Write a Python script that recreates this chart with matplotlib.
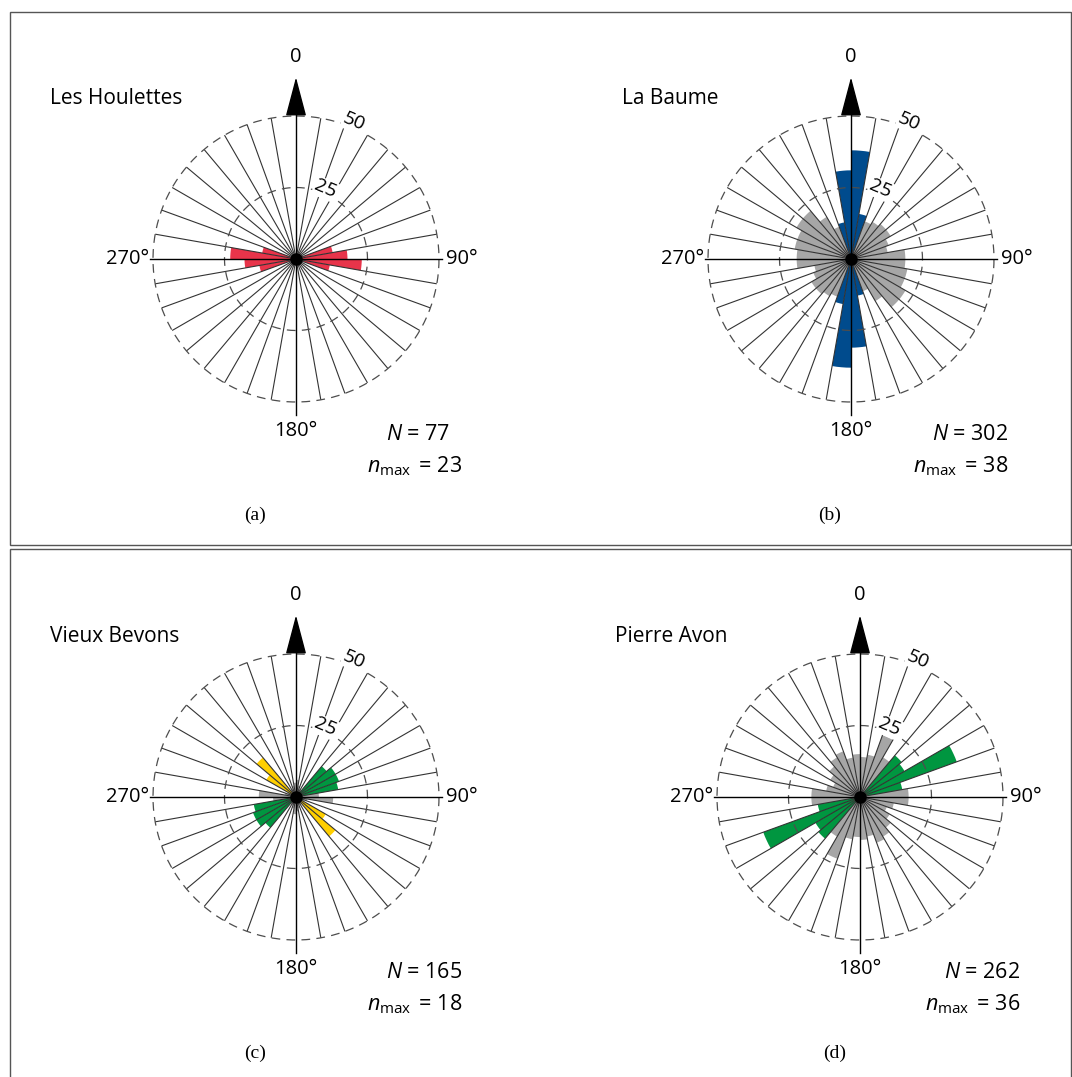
import numpy as np
import matplotlib
matplotlib.use("Agg")
import matplotlib.pyplot as plt
from matplotlib.patches import Rectangle

# 36 bins of 10 degrees, clockwise from north (index = start angle / 10)
bins_deg = np.arange(0, 360, 10)

houlettes_red = [0, 0, 0, 0, 0, 0, 0, 13, 18, 23, 12, 0, 0, 0, 0, 0, 0, 0,
                 0, 0, 0, 0, 0, 0, 0, 13, 18, 23, 12, 0, 0, 0, 0, 0, 0, 0]

baume_blue = [38, 16, 0, 0, 0, 0, 0, 0, 0, 0, 0, 0, 0, 0, 0, 0, 13, 31,
              38, 16, 0, 0, 0, 0, 0, 0, 0, 0, 0, 0, 0, 0, 0, 0, 13, 31]
baume_grey = [10, 12, 14, 15, 16, 16, 14, 13, 19, 19, 20, 20, 22, 22, 17, 12, 10, 10,
              10, 12, 14, 15, 16, 16, 14, 13, 19, 19, 20, 20, 22, 22, 17, 12, 10, 10]

bevons_yellow = [0, 0, 0, 0, 0, 0, 0, 0, 0, 0, 0, 0, 12, 18, 0, 0, 0, 0,
                 0, 0, 0, 0, 0, 0, 0, 0, 0, 0, 0, 0, 12, 18, 0, 0, 0, 0]
bevons_green = [0, 0, 0, 0, 14, 16, 16, 15, 0, 0, 0, 0, 0, 0, 0, 0, 0, 0,
                0, 0, 0, 0, 14, 16, 16, 15, 0, 0, 0, 0, 0, 0, 0, 0, 0, 0]
bevons_grey = [6, 4, 3, 3, 3, 3, 4, 5, 8, 13, 4, 3, 3, 3, 3, 3, 4, 5,
               6, 4, 3, 3, 3, 3, 4, 5, 8, 13, 4, 3, 3, 3, 3, 3, 4, 5]

avon_green = [0, 0, 0, 0, 19, 18, 36, 15, 0, 0, 0, 0, 0, 0, 0, 0, 0, 0,
              0, 0, 0, 0, 19, 18, 36, 15, 0, 0, 0, 0, 0, 0, 0, 0, 0, 0]
avon_grey = [14, 15, 23, 16, 14, 14, 14, 14, 17, 17, 12, 10, 12, 14, 16, 17, 14, 15,
             14, 15, 23, 16, 14, 14, 14, 14, 17, 17, 12, 10, 12, 14, 16, 17, 14, 15]

RED = "#e8344a"
BLUE = "#004b8d"
GREY = "#a6a6a6"
YELLOW = "#ffcf00"
GREEN = "#009640"

W, H = 1072, 1077
R_PX = 143  # pixel radius of the 50 circle

SANS = "Open Sans"
plt.rcParams["font.family"] = SANS
plt.rcParams["mathtext.fontset"] = "custom"
plt.rcParams["mathtext.rm"] = SANS
plt.rcParams["mathtext.it"] = SANS + ":italic"

fig = plt.figure(figsize=(W / 100, H / 100), dpi=100)


def fx(x):
    return x / W


def fy(y):
    return 1 - y / H


def rose(cx, cy, layers, title, title_x, stat_x, N, nmax, label, label_x, label_y):
    ax = fig.add_axes([fx(cx - R_PX), fy(cy + R_PX), 2 * R_PX / W, 2 * R_PX / H],
                      projection="polar")
    ax.set_theta_zero_location("N")
    ax.set_theta_direction(-1)
    ax.set_ylim(0, 50)
    ax.set_axis_off()

    th = np.deg2rad(bins_deg)
    w = np.deg2rad(10)
    for z, (vals, col) in enumerate(layers):
        ax.bar(th, vals, width=w, align="edge", color=col, edgecolor="none",
               linewidth=0, zorder=2 + z)

    # radial spokes
    for a in bins_deg:
        if a % 90 == 0:
            continue
        ax.plot([np.deg2rad(a)] * 2, [0, 50], color="#333333", lw=0.8, zorder=6)
    # dashed circles
    tt = np.linspace(0, 2 * np.pi, 400)
    for r in (25, 50):
        ax.plot(tt, np.full_like(tt, r), color="#4d4d4d", lw=0.9,
                ls=(0, (7, 5)), zorder=6, clip_on=False)
    # main axes
    ax.plot([0, 0], [0, 57], color="black", lw=1.0, zorder=7, clip_on=False)
    ax.plot([np.pi, np.pi], [0, 54.5], color="black", lw=1.0, zorder=7, clip_on=False)
    ax.plot([np.pi / 2] * 2, [0, 51], color="black", lw=1.0, zorder=7, clip_on=False)
    ax.plot([3 * np.pi / 2] * 2, [0, 51], color="black", lw=1.0, zorder=7, clip_on=False)
    ax.annotate("", xy=(0, 64.5), xytext=(0, 56),
                arrowprops=dict(arrowstyle="-|>,head_length=1.25,head_width=0.33",
                                color="black", lw=1.0, mutation_scale=20),
                annotation_clip=False, zorder=8)
    ax.plot([0], [0], "o", color="black", ms=8, zorder=9, clip_on=False)

    for r, lab, ang in ((26.5, "25", 23), (52.0, "50", 23)):
        ax.text(np.deg2rad(ang), r, lab, rotation=-ang, ha="center", va="center",
                fontsize=14, zorder=8,
                bbox=dict(boxstyle="square,pad=0.05", fc="white", ec="none"))

    fig.text(fx(cx), fy(cy - 202), "0", ha="center", va="center", fontsize=14.5)
    fig.text(fx(cx - 147), fy(cy), "270°", ha="right", va="center", fontsize=14.5)
    fig.text(fx(cx + 150), fy(cy), "90°", ha="left", va="center", fontsize=14.5)
    fig.text(fx(cx), fy(cy + 172), "180°", ha="center", va="center", fontsize=14.5)
    fig.text(fx(title_x), fy(cy - 160), title, ha="left", va="center", fontsize=15)
    fig.text(fx(stat_x + 19), fy(cy + 175), r"$N$ = %d" % N, ha="left", va="center",
             fontsize=15.5)
    fig.text(fx(stat_x), fy(cy + 207), r"$n_{\mathrm{max}}\,$ = %d" % nmax, ha="left",
             va="center", fontsize=15.5)
    fig.text(fx(label_x), fy(label_y), label, ha="center", va="center",
             fontsize=14, family="Liberation Serif")


rose(296, 259, [(houlettes_red, RED)], "Les Houlettes", 50, 367, 77, 23,
     "(a)", 255, 515)
rose(851, 259, [(baume_grey, GREY), (baume_blue, BLUE)], "La Baume", 622, 913, 302, 38,
     "(b)", 830, 515)
rose(296, 797, [(bevons_grey, GREY), (bevons_green, GREEN), (bevons_yellow, YELLOW)],
     "Vieux Bevons", 50, 367, 165, 18, "(c)", 255, 1053)
rose(860, 797, [(avon_grey, GREY), (avon_green, GREEN)], "Pierre Avon", 615, 925, 262, 36,
     "(d)", 835, 1053)

# panel frames
for (x0, y0, x1, y1) in ((10, 12, 1071, 545), (10, 549, 1071, 1078)):
    fig.patches.append(Rectangle((fx(x0), fy(y1)), fx(x1 - x0), (y1 - y0) / H,
                                 transform=fig.transFigure, fill=False,
                                 ec="#555555", lw=1.0))

fig.savefig("out.png", dpi=100)
